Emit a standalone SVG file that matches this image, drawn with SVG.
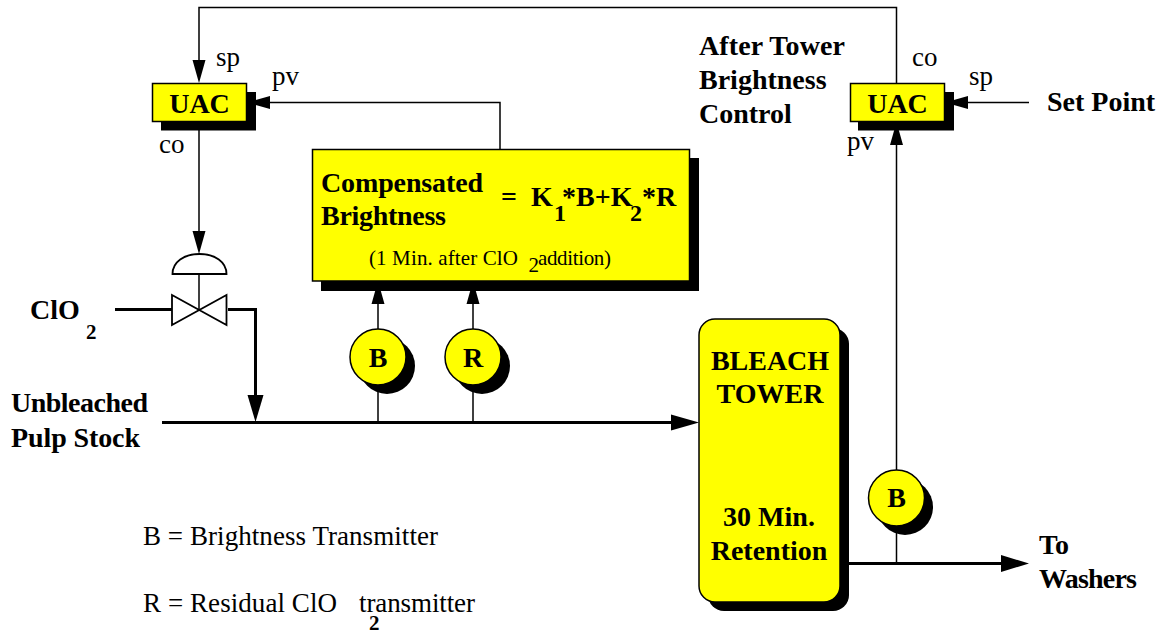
<svg xmlns="http://www.w3.org/2000/svg" width="1164" height="635" viewBox="0 0 1164 635">
<style>
text{font-family:"Liberation Serif","Times New Roman",serif;fill:#000}
.b{font-weight:bold;font-size:28px}
.r{font-size:27px}
.s{font-size:21px}
.n{font-weight:bold;font-size:21px}
.y{fill:#ff0;stroke:#000;stroke-width:1.5}
.k{fill:#000}
.t{fill:none;stroke:#000;stroke-width:1.5}
.h{fill:none;stroke:#000;stroke-width:3}
.v{fill:#fff;stroke:#000;stroke-width:1.8}
</style>
<rect width="1164" height="635" fill="#fff"/>
<g id="connectors">
<path class="t" d="M896.500 83V7.500H199V62"/><path class="k" d="M199 83l-6.500-23h13z"/>
<path class="t" d="M500 150V102.500H268"/><path class="k" d="M247 102.500l23-6.500v13z"/>
<path class="t" d="M199 130V240"/><path class="k" d="M199 254l-6.500-23h13z"/>
<path class="t" d="M378 422V303"/><path class="k" d="M378 281l-6.500 23h13z"/>
<path class="t" d="M473 422V303"/><path class="k" d="M473 281l-6.500 23h13z"/>
<path class="t" d="M896.500 563V143"/><path class="k" d="M896.500 122l-6.500 23h13z"/>
<path class="t" d="M1029 102.500H966"/><path class="k" d="M945 102.500l23-6.500v13z"/>
<path class="h" d="M115 309.500H172"/>
<path class="h" d="M228 309.500H255.500V400"/><path class="k" d="M255.500 422l-8-27h16z"/>
<path class="h" d="M162 422.500H675"/><path class="k" d="M699 422.500l-28-8v16z"/>
<path class="h" d="M849 563.500H1003"/><path class="k" d="M1029 563.500l-28-8.500v17z"/>
</g>
<g id="uac-left">
<rect class="k" x="161" y="92" width="95" height="38.500"/>
<rect class="y" x="152.500" y="83.500" width="94" height="38"/>
<text class="b" x="199.500" y="113" text-anchor="middle">UAC</text>
</g>
<g id="uac-right">
<rect class="k" x="858" y="92" width="96" height="38.500"/>
<rect class="y" x="850.500" y="83.500" width="94" height="38"/>
<text class="b" x="897.500" y="113" text-anchor="middle">UAC</text>
</g>
<g id="compensated-brightness">
<rect class="k" x="321" y="158" width="378" height="133"/>
<rect class="y" x="312.500" y="149.500" width="377" height="131.500"/>
<text class="b" x="321" y="192" textLength="162">Compensated</text>
<text class="b" x="321" y="225" textLength="125">Brightness</text>
<text class="b" x="501" y="206">=</text>
<text class="b" x="531" y="206">K</text>
<text class="n" x="554" y="221" style="font-size:24px">1</text>
<text class="b" x="562" y="206">*B+K</text>
<text class="n" x="630" y="221" style="font-size:24px">2</text>
<text class="b" x="642" y="206">*R</text>
<text class="s" x="369" y="265" textLength="149">(1 Min. after ClO</text>
<text class="s" x="528.500" y="272">2</text>
<text class="s" x="538" y="265" textLength="73">addition)</text>
</g>
<g id="valve">
<path class="v" d="M172.500 274C172.500 262 184 254 199.500 254S226.500 262 226.500 274Z"/>
<path class="t" d="M199 274V310"/>
<path class="v" d="M172 295L226.500 325V295L172 325Z"/>
</g>
<g id="transmitter-b1">
<circle class="k" cx="387" cy="366" r="28"/>
<circle class="y" cx="378" cy="357" r="28"/>
<text class="b" x="378" y="367" text-anchor="middle">B</text>
</g>
<g id="transmitter-r">
<circle class="k" cx="482" cy="366" r="28"/>
<circle class="y" cx="473" cy="357" r="28"/>
<text class="b" x="473" y="367" text-anchor="middle">R</text>
</g>
<g id="transmitter-b2">
<circle class="k" cx="905" cy="507" r="28"/>
<circle class="y" cx="896.500" cy="498" r="28"/>
<text class="b" x="896.500" y="507" text-anchor="middle">B</text>
</g>
<g id="bleach-tower">
<rect class="k" x="708" y="328" width="141" height="283" rx="16"/>
<rect class="y" x="699" y="319" width="141" height="283" rx="16"/>
<text class="b" x="770" y="370" text-anchor="middle">BLEACH</text>
<text class="b" x="770" y="403" text-anchor="middle">TOWER</text>
<text class="b" x="769" y="526" text-anchor="middle">30 Min.</text>
<text class="b" x="769" y="560" text-anchor="middle">Retention</text>
</g>
<g id="labels">
<text class="r" x="216" y="66">sp</text>
<text class="r" x="272" y="85">pv</text>
<text class="r" x="159" y="153">co</text>
<text class="r" x="912" y="66">co</text>
<text class="r" x="969" y="85">sp</text>
<text class="r" x="847" y="150">pv</text>
<text class="b" x="699" y="55" textLength="146">After Tower</text>
<text class="b" x="699" y="89">Brightness</text>
<text class="b" x="699" y="123">Control</text>
<text class="b" x="1047" y="111">Set Point</text>
<text class="b" x="30" y="319">ClO</text>
<text class="n" x="86" y="339">2</text>
<text class="b" x="11" y="412" textLength="137">Unbleached</text>
<text class="b" x="11" y="447" textLength="129">Pulp Stock</text>
<text class="b" x="1039" y="554">To</text>
<text class="b" x="1039" y="588" textLength="98">Washers</text>
<text class="r" x="143" y="545" textLength="295">B = Brightness Transmitter</text>
<text class="r" x="143" y="612" textLength="194">R = Residual ClO</text>
<text class="r" x="359" y="612" textLength="116">transmitter</text>
<text class="n" x="369" y="630">2</text>
</g>
</svg>
